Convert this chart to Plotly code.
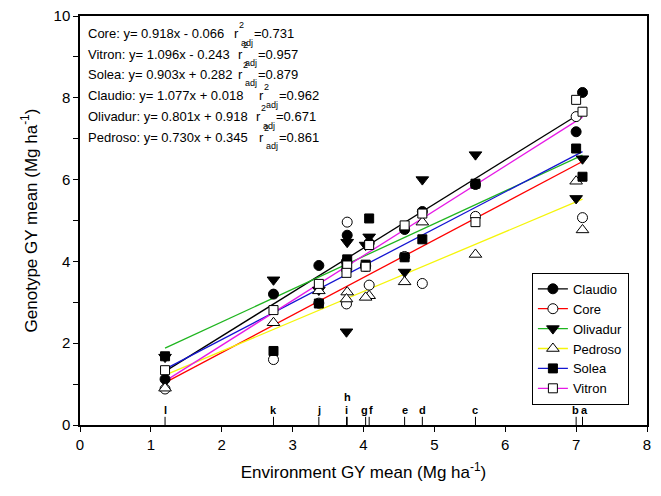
import plotly.graph_objects as go

# ---------------- data ----------------
env_labels = ['a', 'b', 'c', 'd', 'e', 'f', 'g', 'h', 'i', 'j', 'k', 'l']
env_mean = [7.09, 7.00, 5.58, 4.83, 4.58, 4.08, 4.03, 3.77, 3.76, 3.37, 2.73, 1.20]

genotypes = ['Claudio', 'Core', 'Olivadur', 'Pedroso', 'Solea', 'Vitron']

claudio = [8.13, 7.17, 5.88, 5.22, 4.78, 4.45, 3.90, 4.64, 4.00, 3.90, 3.20, 1.12]
core = [5.07, 7.54, 5.10, 3.46, 4.12, 3.42, 3.88, 4.96, 2.96, 2.98, 1.60, 0.88]
olivadur = [6.51, 5.54, 6.61, 6.00, 3.74, 4.60, 4.40, 4.47, 2.28, 3.30, 3.55, 1.66]
pedroso = [4.77, 5.96, 4.17, 4.96, 3.50, 3.16, 3.12, 3.25, 3.08, 3.28, 2.50, 0.90]
solea = [6.07, 6.76, 5.90, 4.54, 4.10, 5.05, 3.92, 4.05, 3.85, 2.97, 1.81, 1.68]
vitron = [7.66, 7.95, 4.96, 5.17, 4.88, 4.40, 3.87, 3.90, 3.72, 3.45, 2.81, 1.34]

values = [claudio, core, olivadur, pedroso, solea, vitron]

# regression equations (slope, intercept, adjusted r2) in the order shown
eq_names = ['Core', 'Vitron', 'Solea', 'Claudio', 'Olivadur', 'Pedroso']
eq_slope = [0.918, 1.096, 0.903, 1.077, 0.801, 0.730]
eq_intercept = [-0.066, -0.243, 0.282, 0.018, 0.918, 0.345]
eq_r2 = [0.731, 0.957, 0.879, 0.962, 0.671, 0.861]

# ---------------- styles ----------------
FONT = "Arial, Liberation Sans, sans-serif"
line_colors = {'Claudio': '#000000', 'Core': '#ff0000', 'Olivadur': '#1fb51f',
               'Pedroso': '#f5f50a', 'Solea': '#1414d2', 'Vitron': '#e619e6'}
symbols = {'Claudio': 'circle', 'Core': 'circle', 'Olivadur': 'triangle-down',
           'Pedroso': 'triangle-up', 'Solea': 'square', 'Vitron': 'square'}
fills = {'Claudio': 'black', 'Core': 'white', 'Olivadur': 'black',
         'Pedroso': 'white', 'Solea': 'black', 'Vitron': 'white'}
msize = {'Claudio': 10, 'Core': 10, 'Olivadur': 11, 'Pedroso': 11, 'Solea': 9, 'Vitron': 9}
letter_shift = {'a': 2, 'b': -1, 'f': 2, 'g': -1}

def marker_for(g):
    return dict(symbol=symbols[g], size=msize[g], color=fills[g],
                line=dict(color='black', width=1))

fig = go.Figure()

xmin, xmax = min(env_mean), max(env_mean)
coef = {n: (s, b) for n, s, b in zip(eq_names, eq_slope, eq_intercept)}

# regression lines
for g in genotypes:
    s, b = coef[g]
    fig.add_trace(go.Scatter(x=[xmin, xmax], y=[s * xmin + b, s * xmax + b],
                             mode='lines', line=dict(color=line_colors[g], width=1.3),
                             showlegend=False, hoverinfo='skip'))

# environment tick marks along the x axis
tx, ty = [], []
for e in env_mean:
    tx += [e, e, None]
    ty += [0, 0.2, None]
fig.add_trace(go.Scatter(x=tx, y=ty, mode='lines', line=dict(color='black', width=1),
                         showlegend=False, hoverinfo='skip'))

# points
for g, v in zip(genotypes, values):
    fig.add_trace(go.Scatter(x=env_mean, y=v, mode='markers', marker=marker_for(g),
                             showlegend=False))

# legend entries
for g in genotypes:
    fig.add_trace(go.Scatter(x=[None], y=[None], mode='lines+markers', name=g,
                             marker=marker_for(g),
                             line=dict(color=line_colors[g], width=1.3)))

annotations = []
# environment letters
for lab, e in zip(env_labels, env_mean):
    annotations.append(dict(x=e, y=0.2, xref='x', yref='y', text=lab, showarrow=False,
                            xanchor='center', yanchor='bottom', borderpad=0,
                            xshift=letter_shift.get(lab, 0),
                            yshift=(13 if lab == 'h' else 0),
                            font=dict(family=FONT, size=11, color='black', weight='bold')))

# equations
eq_y = [9.57, 9.07, 8.58, 8.05, 7.54, 7.03]
eq_r_x = [2.16, 2.21, 2.22, 2.51, 2.47, 2.51]
for n, s, b, r2, y, rx in zip(eq_names, eq_slope, eq_intercept, eq_r2, eq_y, eq_r_x):
    sign = '+' if b >= 0 else '-'
    txt = f"{n}: y= {s:.3f}x {sign} {abs(b):.3f}"
    f13 = dict(family=FONT, size=13, color='black')
    f9 = dict(family=FONT, size=9, color='black')
    annotations.append(dict(x=0.1, y=y, xref='x', yref='y', text=txt, showarrow=False,
                            xanchor='left', yanchor='middle', borderpad=0, font=f13))
    annotations.append(dict(x=rx, y=y, xref='x', yref='y', text='r', showarrow=False,
                            xanchor='left', yanchor='middle', borderpad=0, font=f13))
    annotations.append(dict(x=rx, y=y, xref='x', yref='y', text='2', showarrow=False,
                            xanchor='left', yanchor='middle', borderpad=0,
                            xshift=5, yshift=9, font=f9))
    annotations.append(dict(x=rx, y=y, xref='x', yref='y', text='adj', showarrow=False,
                            xanchor='left', yanchor='middle', borderpad=0,
                            xshift=7, yshift=-9, font=f9))
    annotations.append(dict(x=rx, y=y, xref='x', yref='y', text=f"={r2:.3f}",
                            showarrow=False, xanchor='left', yanchor='middle', borderpad=0,
                            xshift=20, font=f13))

fig.update_layout(
    width=661, height=496,
    margin=dict(l=80, r=14, t=16, b=71),
    paper_bgcolor='white', plot_bgcolor='white',
    font=dict(family=FONT, color='black'),
    annotations=annotations,
    legend=dict(x=0.797, y=0.372, xanchor='left', yanchor='top',
                bordercolor='black', borderwidth=1, bgcolor='white',
                font=dict(family=FONT, size=13, color='black'),
                tracegroupgap=0, entrywidth=80),
    xaxis=dict(range=[0, 8], dtick=1, ticks='outside', ticklen=5, tickwidth=1,
               tickcolor='black', showline=True, linecolor='black', linewidth=1.5,
               mirror=True, showgrid=False, zeroline=False, automargin=False,
               tickfont=dict(family=FONT, size=15, color='black'),
               title=dict(text='Environment GY mean (Mg ha<sup>-1</sup>)',
                          font=dict(family=FONT, size=17, color='black'), standoff=14)),
    yaxis=dict(range=[0, 10], dtick=2, ticks='outside', ticklen=5, tickwidth=1,
               tickcolor='black', showline=True, linecolor='black', linewidth=1.5,
               mirror=True, showgrid=False, zeroline=False, automargin=False,
               minor=dict(dtick=1, ticks='outside', ticklen=5, tickcolor='black'),
               tickfont=dict(family=FONT, size=15, color='black'),
               title=dict(text='Genotype GY mean (Mg ha<sup>-1</sup>)',
                          font=dict(family=FONT, size=17, color='black'), standoff=12)),
)

fig.write_html("out.html", config={'displayModeBar': False},
               post_script="document.body.style.margin='0';")
